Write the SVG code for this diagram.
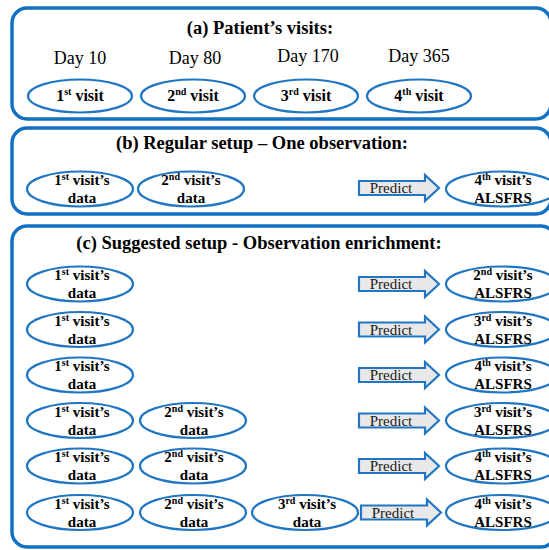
<svg xmlns="http://www.w3.org/2000/svg" width="549" height="550" viewBox="0 0 549 550" font-family="'Liberation Serif', 'Times New Roman', Times, 'DejaVu Serif', serif">
<style>
.panel{fill:none;stroke:#1371c3;stroke-width:3.5}
.ell{fill:#fff;stroke:#2176c4;stroke-width:2.2}
.arr{fill:#e8e8e8;stroke:#2176c4;stroke-width:2.2;stroke-linejoin:miter}
text{font-family:'Liberation Serif','Times New Roman',Times,'DejaVu Serif',serif;fill:#000;text-anchor:middle}
.title{font-weight:bold;font-size:18.5px}
.day{font-size:18px}
.lbl{font-weight:bold;font-size:15px}
.lbla{font-weight:bold;font-size:16px}
.sup{font-size:10px}
.pred{font-size:15px;fill:#1a1a1a}
</style>
<defs>
<path id="arrow" class="arr" d="M0,-7 H66 V-13 L80,0 L66,13 V7 H0 Z"/>
</defs>
<rect width="549" height="550" fill="#fff"/>

<g id="panel-a">
<rect class="panel" x="12" y="8" width="539" height="111" rx="15"/>
<text class="title" x="260" y="34">(a) Patient’s visits:</text>
<text class="day" x="80" y="64">Day 10</text>
<text class="day" x="195" y="64">Day 80</text>
<text class="day" x="308" y="62">Day 170</text>
<text class="day" x="419" y="62">Day 365</text>
</g>
<g id="a-visit1"><ellipse class="ell" cx="80" cy="96" rx="52" ry="16.5"/><text class="lbla" x="80" y="101">1<tspan class="sup" dy="-6">st</tspan><tspan dy="6"> visit</tspan></text></g>
<g id="a-visit2"><ellipse class="ell" cx="193" cy="96" rx="52" ry="16.5"/><text class="lbla" x="193" y="101">2<tspan class="sup" dy="-6">nd</tspan><tspan dy="6"> visit</tspan></text></g>
<g id="a-visit3"><ellipse class="ell" cx="306" cy="96" rx="52" ry="16.5"/><text class="lbla" x="306" y="101">3<tspan class="sup" dy="-6">rd</tspan><tspan dy="6"> visit</tspan></text></g>
<g id="a-visit4"><ellipse class="ell" cx="419" cy="96" rx="52" ry="16.5"/><text class="lbla" x="419" y="101">4<tspan class="sup" dy="-6">th</tspan><tspan dy="6"> visit</tspan></text></g>

<g id="panel-b">
<rect class="panel" x="12" y="128" width="539" height="86" rx="15"/>
<text class="title" x="262" y="149">(b) Regular setup – One observation:</text>
</g>
<g id="b-data1"><ellipse class="ell" cx="80" cy="189" rx="53" ry="17.5"/><text class="lbl" x="82" y="185">1<tspan class="sup" dy="-5">st</tspan><tspan dy="5"> visit’s</tspan></text><text class="lbl" x="82" y="203">data</text></g>
<g id="b-data2"><ellipse class="ell" cx="191" cy="189" rx="53" ry="17.5"/><text class="lbl" x="191" y="185">2<tspan class="sup" dy="-5">nd</tspan><tspan dy="5"> visit’s</tspan></text><text class="lbl" x="191" y="203">data</text></g>
<g id="b-target"><ellipse class="ell" cx="502" cy="189" rx="56" ry="17.5"/><text class="lbl" x="503" y="185">4<tspan class="sup" dy="-5">th</tspan><tspan dy="5"> visit’s</tspan></text><text class="lbl" x="503" y="203">ALSFRS</text></g>

<g id="panel-c">
<rect class="panel" x="12" y="226" width="544" height="321" rx="15"/>
<text class="title" x="259" y="249">(c) Suggested setup - Observation enrichment:</text>
</g>

<g id="c-row1">
<ellipse class="ell" cx="80" cy="284" rx="53" ry="17.5"/><text class="lbl" x="82" y="280">1<tspan class="sup" dy="-5">st</tspan><tspan dy="5"> visit’s</tspan></text><text class="lbl" x="82" y="298">data</text>
<ellipse class="ell" cx="502" cy="284" rx="56" ry="17.5"/><text class="lbl" x="503" y="280">2<tspan class="sup" dy="-5">nd</tspan><tspan dy="5"> visit’s</tspan></text><text class="lbl" x="503" y="298">ALSFRS</text>
</g>
<g id="c-row2">
<ellipse class="ell" cx="80" cy="329.5" rx="53" ry="17.5"/><text class="lbl" x="82" y="325.5">1<tspan class="sup" dy="-5">st</tspan><tspan dy="5"> visit’s</tspan></text><text class="lbl" x="82" y="343.5">data</text>
<ellipse class="ell" cx="502" cy="329.5" rx="56" ry="17.5"/><text class="lbl" x="503" y="325.5">3<tspan class="sup" dy="-5">rd</tspan><tspan dy="5"> visit’s</tspan></text><text class="lbl" x="503" y="343.5">ALSFRS</text>
</g>
<g id="c-row3">
<ellipse class="ell" cx="80" cy="375" rx="53" ry="17.5"/><text class="lbl" x="82" y="371">1<tspan class="sup" dy="-5">st</tspan><tspan dy="5"> visit’s</tspan></text><text class="lbl" x="82" y="389">data</text>
<ellipse class="ell" cx="502" cy="375" rx="56" ry="17.5"/><text class="lbl" x="503" y="371">4<tspan class="sup" dy="-5">th</tspan><tspan dy="5"> visit’s</tspan></text><text class="lbl" x="503" y="389">ALSFRS</text>
</g>
<g id="c-row4">
<ellipse class="ell" cx="80" cy="420.5" rx="53" ry="17.5"/><text class="lbl" x="82" y="416.5">1<tspan class="sup" dy="-5">st</tspan><tspan dy="5"> visit’s</tspan></text><text class="lbl" x="82" y="434.5">data</text>
<ellipse class="ell" cx="193" cy="420.5" rx="53" ry="17.5"/><text class="lbl" x="194" y="416.5">2<tspan class="sup" dy="-5">nd</tspan><tspan dy="5"> visit’s</tspan></text><text class="lbl" x="194" y="434.5">data</text>
<ellipse class="ell" cx="502" cy="420.5" rx="56" ry="17.5"/><text class="lbl" x="503" y="416.5">3<tspan class="sup" dy="-5">rd</tspan><tspan dy="5"> visit’s</tspan></text><text class="lbl" x="503" y="434.5">ALSFRS</text>
</g>
<g id="c-row5">
<ellipse class="ell" cx="80" cy="466" rx="53" ry="17.5"/><text class="lbl" x="82" y="462">1<tspan class="sup" dy="-5">st</tspan><tspan dy="5"> visit’s</tspan></text><text class="lbl" x="82" y="480">data</text>
<ellipse class="ell" cx="193" cy="466" rx="53" ry="17.5"/><text class="lbl" x="194" y="462">2<tspan class="sup" dy="-5">nd</tspan><tspan dy="5"> visit’s</tspan></text><text class="lbl" x="194" y="480">data</text>
<ellipse class="ell" cx="502" cy="466" rx="56" ry="17.5"/><text class="lbl" x="503" y="462">4<tspan class="sup" dy="-5">th</tspan><tspan dy="5"> visit’s</tspan></text><text class="lbl" x="503" y="480">ALSFRS</text>
</g>
<g id="c-row6">
<ellipse class="ell" cx="80" cy="512.5" rx="53" ry="17.5"/><text class="lbl" x="82" y="508.5">1<tspan class="sup" dy="-5">st</tspan><tspan dy="5"> visit’s</tspan></text><text class="lbl" x="82" y="526.5">data</text>
<ellipse class="ell" cx="193" cy="512.5" rx="53" ry="17.5"/><text class="lbl" x="194" y="508.5">2<tspan class="sup" dy="-5">nd</tspan><tspan dy="5"> visit’s</tspan></text><text class="lbl" x="194" y="526.5">data</text>
<ellipse class="ell" cx="305" cy="512.5" rx="53" ry="17.5"/><text class="lbl" x="307" y="508.5">3<tspan class="sup" dy="-5">rd</tspan><tspan dy="5"> visit’s</tspan></text><text class="lbl" x="307" y="526.5">data</text>
<ellipse class="ell" cx="502" cy="512.5" rx="56" ry="17.5"/><text class="lbl" x="503" y="508.5">4<tspan class="sup" dy="-5">th</tspan><tspan dy="5"> visit’s</tspan></text><text class="lbl" x="503" y="526.5">ALSFRS</text>
</g>

<g id="connectors">
<use href="#arrow" x="359" y="188"/><text class="pred" x="391" y="193">Predict</text>
<use href="#arrow" x="359" y="284"/><text class="pred" x="391" y="289">Predict</text>
<use href="#arrow" x="359" y="329.5"/><text class="pred" x="391" y="334.5">Predict</text>
<use href="#arrow" x="359" y="375"/><text class="pred" x="391" y="380">Predict</text>
<use href="#arrow" x="359" y="420.5"/><text class="pred" x="391" y="425.5">Predict</text>
<use href="#arrow" x="359" y="466"/><text class="pred" x="391" y="471">Predict</text>
<use href="#arrow" x="361" y="512.5"/><text class="pred" x="393" y="517.5">Predict</text>
</g>
</svg>
